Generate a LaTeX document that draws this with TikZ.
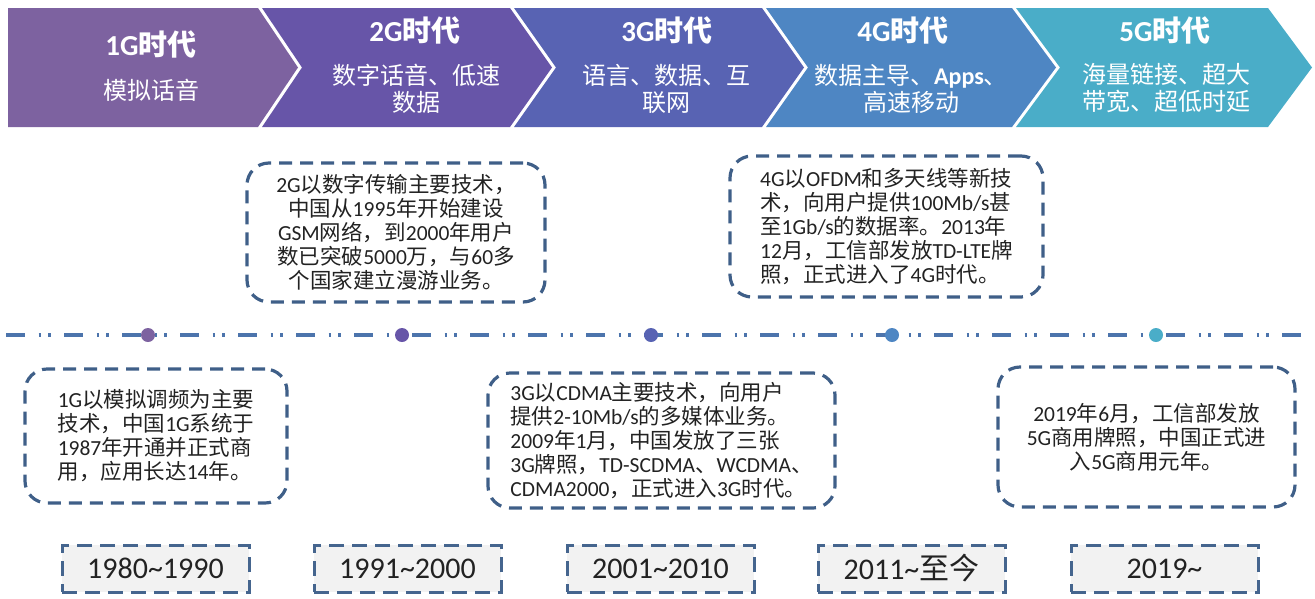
\documentclass[tikz,border=0pt]{standalone}
\usepackage{fontspec}
\setmainfont{Noto Sans CJK SC}
\newfontfamily\lat{Carlito}
\newfontfamily\cjk{Noto Sans CJK SC}
\newcommand\E[1]{{\lat #1}}
\newcommand\tld{\string~}
\definecolor{ca}{HTML}{7D62A0}
\definecolor{cb}{HTML}{6755A8}
\definecolor{cc}{HTML}{5863B3}
\definecolor{cd}{HTML}{4E86C3}
\definecolor{ce}{HTML}{4AADC8}
\definecolor{linec}{HTML}{4C74AC}
\definecolor{boxc}{HTML}{3F5F88}
\definecolor{yboxc}{HTML}{45658E}
\definecolor{yfill}{HTML}{F2F2F2}
\definecolor{txt}{HTML}{222222}
\tikzset{
  title/.style={text=white, font=\fontsize{29}{32}\selectfont\bfseries, inner sep=0pt},
  sub/.style={text=white, font=\fontsize{24}{27}\selectfont, align=center, inner sep=0pt},
  dbox/.style={draw=boxc, line width=3.2pt, dash pattern=on 13pt off 8pt, rounded corners=22pt,
    inner sep=0pt, text=txt, font=\fontsize{21.5}{24}\selectfont},
  ybox/.style={draw=yboxc, fill=yfill, line width=3pt, dash pattern=on 15pt off 8pt,
    inner sep=0pt, minimum width=187pt, minimum height=47pt, text=txt, font=\fontsize{30}{32}\selectfont\lat},
  tdot/.style={circle, inner sep=0pt, minimum size=14pt},
}
\begin{document}
\begin{tikzpicture}[x=1pt,y=-1pt]
\useasboundingbox (0,0) rectangle (1315,598);
% chevrons
\fill[ca] (8,8) -- (258,8) -- (298,67.5) -- (258,127) -- (8,127) -- cycle;
\fill[cb] (262,8) -- (510,8) -- (552,67.5) -- (510,127) -- (262,127) -- (302,67.5) -- cycle;
\fill[cc] (514,8) -- (762,8) -- (804,67.5) -- (762,127) -- (514,127) -- (556,67.5) -- cycle;
\fill[cd] (766,8) -- (1012,8) -- (1056,67.5) -- (1012,127) -- (766,127) -- (808,67.5) -- cycle;
\fill[ce] (1016,8) -- (1268,8) -- (1312,67.5) -- (1268,127) -- (1016,127) -- (1060,67.5) -- cycle;
% chevron texts
\node[title] (t1) at (151,44) {\E{1G}时代};
\node[sub] (s1) at (151,90) {模拟话音};
\node[title] (t2) at (415,30) {\E{2G}时代};
\node[sub] (s2) at (416,88.5) {数字话音、低速\\数据};
\node[title] (t3) at (667,30) {\E{3G}时代};
\node[sub] (s3) at (666,88.5) {语言、数据、互\\联网};
\node[title] (t4) at (903,30) {\E{4G}时代};
\node[sub] (s4) at (911,88.5) {数据主导、\E{\bfseries Apps}、\\高速移动};
\node[title] (t5) at (1165,30) {\E{5G}时代};
\node[sub] (s5) at (1166,88.5) {海量链接、超大\\带宽、超低时延};
% timeline
\coordinate (ls) at (6,335);
\coordinate (le) at (1310,335);
\draw[linec, line width=3.4pt, dash pattern=on 19pt off 13.5pt on 2.5pt off 7pt on 2.5pt off 13.5pt] (ls) -- (le);
\node[tdot, fill=ca] (d1) at (148,335) {};
\node[tdot, fill=cb] (d2) at (402,335) {};
\node[tdot, fill=cc] (d3) at (651,335) {};
\node[tdot, fill=cd] (d4) at (892,335) {};
\node[tdot, fill=ce] (d5) at (1156,335) {};
% description boxes
\node[dbox, align=left, minimum width=262pt, minimum height=134pt] (b1) at (156,436)
  {\E{1G}以模拟调频为主要\\技术，中国\E{1G}系统于\\\E{1987}年开通并正式商\\用，应用长达\E{14}年。};
\node[dbox, align=center, minimum width=298pt, minimum height=139pt] (b2) at (396,232.5)
  {\E{2G}以数字传输主要技术，\\中国从\E{1995}年开始建设\\\E{GSM}网络，到\E{2000}年用户\\数已突破\E{5000}万，与\E{60}多\\个国家建立漫游业务。};
\node[dbox, align=left, minimum width=347pt, minimum height=135pt] (b3) at (661.5,440.5)
  {\E{3G}以\E{CDMA}主要技术，向用户\\提供\E{2-10Mb/s}的多媒体业务。\\\E{2009}年\E{1}月，中国发放了三张\\\E{3G}牌照，\E{TD-SCDMA}、\E{WCDMA}、\\\E{CDMA2000}，正式进入\E{3G}时代。};
\node[dbox, align=left, minimum width=313pt, minimum height=141pt] (b4) at (886.5,226.5)
  {\E{4G}以\E{OFDM}和多天线等新技\\术，向用户提供\E{100Mb/s}甚\\至\E{1Gb/s}的数据率。\E{2013}年\\\E{12}月，工信部发放\E{TD-LTE}牌\\照，正式进入了\E{4G}时代。};
\node[dbox, align=center, minimum width=297pt, minimum height=140pt] (b5) at (1146.5,437)
  {\E{2019}年\E{6}月，工信部发放\\\E{5G}商用牌照，中国正式进\\入\E{5G}商用元年。};
% year boxes
\node[ybox] (y1) at (155.5,568.5) {1980\tld1990};
\node[ybox] (y2) at (407.5,568.5) {1991\tld2000};
\node[ybox] (y3) at (660.5,568.5) {2001\tld2010};
\node[ybox] (y4) at (911.5,568.5) {2011\tld{\cjk 至今}};
\node[ybox] (y5) at (1164.5,568.5) {2019\tld};
\end{tikzpicture}
\end{document}
